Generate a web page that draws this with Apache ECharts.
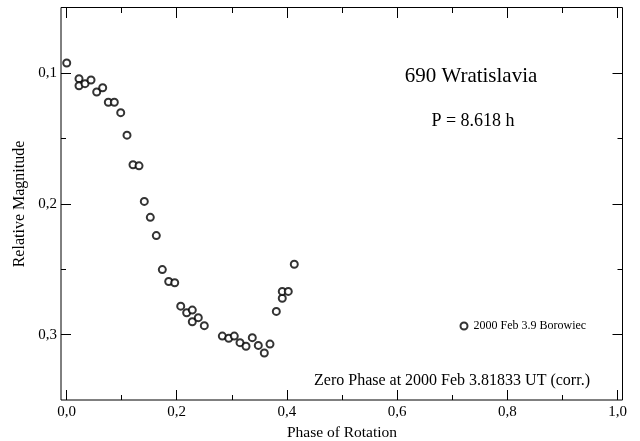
<!DOCTYPE html>
<html>
<head>
<meta charset="utf-8">
<script src="https://cdn.jsdelivr.net/npm/echarts@6/dist/echarts.min.js"></script>
<style>html,body{margin:0;padding:0;background:#fff}#c{width:640px;height:441px}</style>
</head>
<body>
<div id="c"></div>
<script>
const phase = [0.0004,0.0227,0.0227,0.0336,0.0445,0.0548,0.0657,0.0759,0.0868,0.0984,
  0.1098,0.1207,0.1316,0.1412,0.1521,0.1630,0.1739,0.1855,0.1964,0.2073,
  0.2181,0.2283,0.2283,0.2392,0.2501,0.2828,0.2944,0.3045,0.3149,0.3258,
  0.3372,0.3481,0.3590,0.3693,0.3808,0.3916,0.3916,0.4025,0.4134];
const magnitude = [0.0921,0.1041,0.1095,0.1079,0.1051,0.1143,0.1110,0.1221,0.1221,0.1301,
  0.1473,0.1700,0.1708,0.1980,0.2102,0.2242,0.2502,0.2593,0.2603,0.2782,
  0.2832,0.2812,0.2901,0.2870,0.2931,0.3011,0.3028,0.3011,0.3061,0.3089,
  0.3023,0.3082,0.3140,0.3072,0.2822,0.2721,0.2669,0.2669,0.2461];
const seriesName = '2000 Feb 3.9 Borowiec';
const xTickLabels = ['0,0','0,2','0,4','0,6','0,8','1,0'];
const yTickLabels = ['0,1','0,2','0,3'];

const FONT = 'Liberation Serif';
const chart = echarts.init(document.getElementById('c'), null, {renderer:'canvas'});

// layout
const W = 640, H = 441;
const dataLeft = 66.5, dataRight = W - 617.5, gTop = 8, gBottom = 41;
const yMin = 0.05, yMax = 0.35;
const plotH = H - gTop - gBottom;
const tickTop = gTop + (0.1 - yMin) / (yMax - yMin) * plotH;
const tickBottom = gBottom + (yMax - 0.3) / (yMax - yMin) * plotH;

const fmtX = v => { const i = Math.round(v / 0.2); return xTickLabels[i] !== undefined && Math.abs(v - i*0.2) < 1e-6 ? xTickLabels[i] : ''; };
const fmtY = v => { const i = Math.round((v - 0.1) / 0.1); return yTickLabels[i] !== undefined ? yTickLabels[i] : ''; };

const tickCommon = {show:true, inside:true, length:10, lineStyle:{color:'#000', width:1}};
const minorCommon = {show:true, splitNumber:2, length:5, lineStyle:{color:'#000', width:1}};

chart.setOption({
  animation:false,
  backgroundColor:'#fff',
  textStyle:{fontFamily:FONT, color:'#000'},
  title:[
    {text:'690 Wratislavia', left:466, top:61, textAlign:'center',
     textStyle:{fontFamily:FONT, fontSize:21, fontWeight:'normal', color:'#000'}},
    {text:'P = 8.618 h', left:468, top:107, textAlign:'center',
     textStyle:{fontFamily:FONT, fontSize:18, fontWeight:'normal', color:'#000'}},
    {text:'Zero Phase at 2000 Feb 3.81833 UT (corr.)', left:447, top:368, textAlign:'center',
     textStyle:{fontFamily:FONT, fontSize:16, fontWeight:'normal', color:'#000'}}
  ],
  legend:{
    data:[seriesName], left:459.5, top:320, padding:0, itemWidth:7, itemHeight:7, itemGap:4,
    textStyle:{fontFamily:FONT, fontSize:12, color:'#000', padding:[0,0,0,1]}
  },
  grid:[
    {left:dataLeft, right:dataRight, top:gTop, bottom:gBottom, show:false, containLabel:false, outerBoundsMode:'none'},
    {left:61, right:W-622.5, top:7.5, bottom:gBottom, show:true, borderColor:'#000', borderWidth:1, backgroundColor:'transparent', containLabel:false, outerBoundsMode:'none'},
    {left:61, right:W-622.5, top:tickTop, bottom:tickBottom, show:false, containLabel:false, outerBoundsMode:'none'}
  ],
  xAxis:[
    {gridIndex:0, type:'value', position:'bottom', min:0, max:1, interval:0.2,
     axisLine:{show:false}, axisTick:tickCommon, minorTick:minorCommon, splitLine:{show:false},
     axisLabel:{formatter:fmtX, fontFamily:FONT, fontSize:15, color:'#000', margin:5},
     name:'Phase of Rotation', nameLocation:'middle', nameGap:23,
     nameTextStyle:{fontFamily:FONT, fontSize:15.5, color:'#000'}},
    {gridIndex:0, type:'value', position:'top', min:0, max:1, interval:0.2,
     axisLine:{show:false}, axisTick:tickCommon, minorTick:minorCommon, splitLine:{show:false},
     axisLabel:{show:false}},
    {gridIndex:1, type:'value', show:false, min:0, max:1},
    {gridIndex:2, type:'value', show:false, min:0, max:1}
  ],
  yAxis:[
    {gridIndex:0, type:'value', show:false, min:yMin, max:yMax, inverse:true},
    {gridIndex:1, type:'value', show:false, min:0, max:1},
    {gridIndex:2, type:'value', position:'left', min:0.1, max:0.3, interval:0.1, inverse:true,
     axisLine:{show:false}, axisTick:tickCommon, minorTick:minorCommon, splitLine:{show:false},
     axisLabel:{formatter:fmtY, fontFamily:FONT, fontSize:15, color:'#000', margin:4},
     name:'Relative Magnitude', nameLocation:'middle', nameGap:27, nameRotate:90,
     nameTextStyle:{fontFamily:FONT, fontSize:16, color:'#000'}},
    {gridIndex:2, type:'value', position:'right', min:0.1, max:0.3, interval:0.1, inverse:true,
     axisLine:{show:false}, axisTick:tickCommon, minorTick:minorCommon, splitLine:{show:false},
     axisLabel:{show:false}}
  ],
  series:[{
    name:seriesName, type:'scatter', xAxisIndex:0, yAxisIndex:0, clip:false,
    symbol:'emptyCircle', symbolSize:7,
    itemStyle:{color:'#000', borderColor:'#000', borderWidth:0.8},
    data: phase.map((p, i) => [p, magnitude[i]])
  }]
});
</script>
</body>
</html>
